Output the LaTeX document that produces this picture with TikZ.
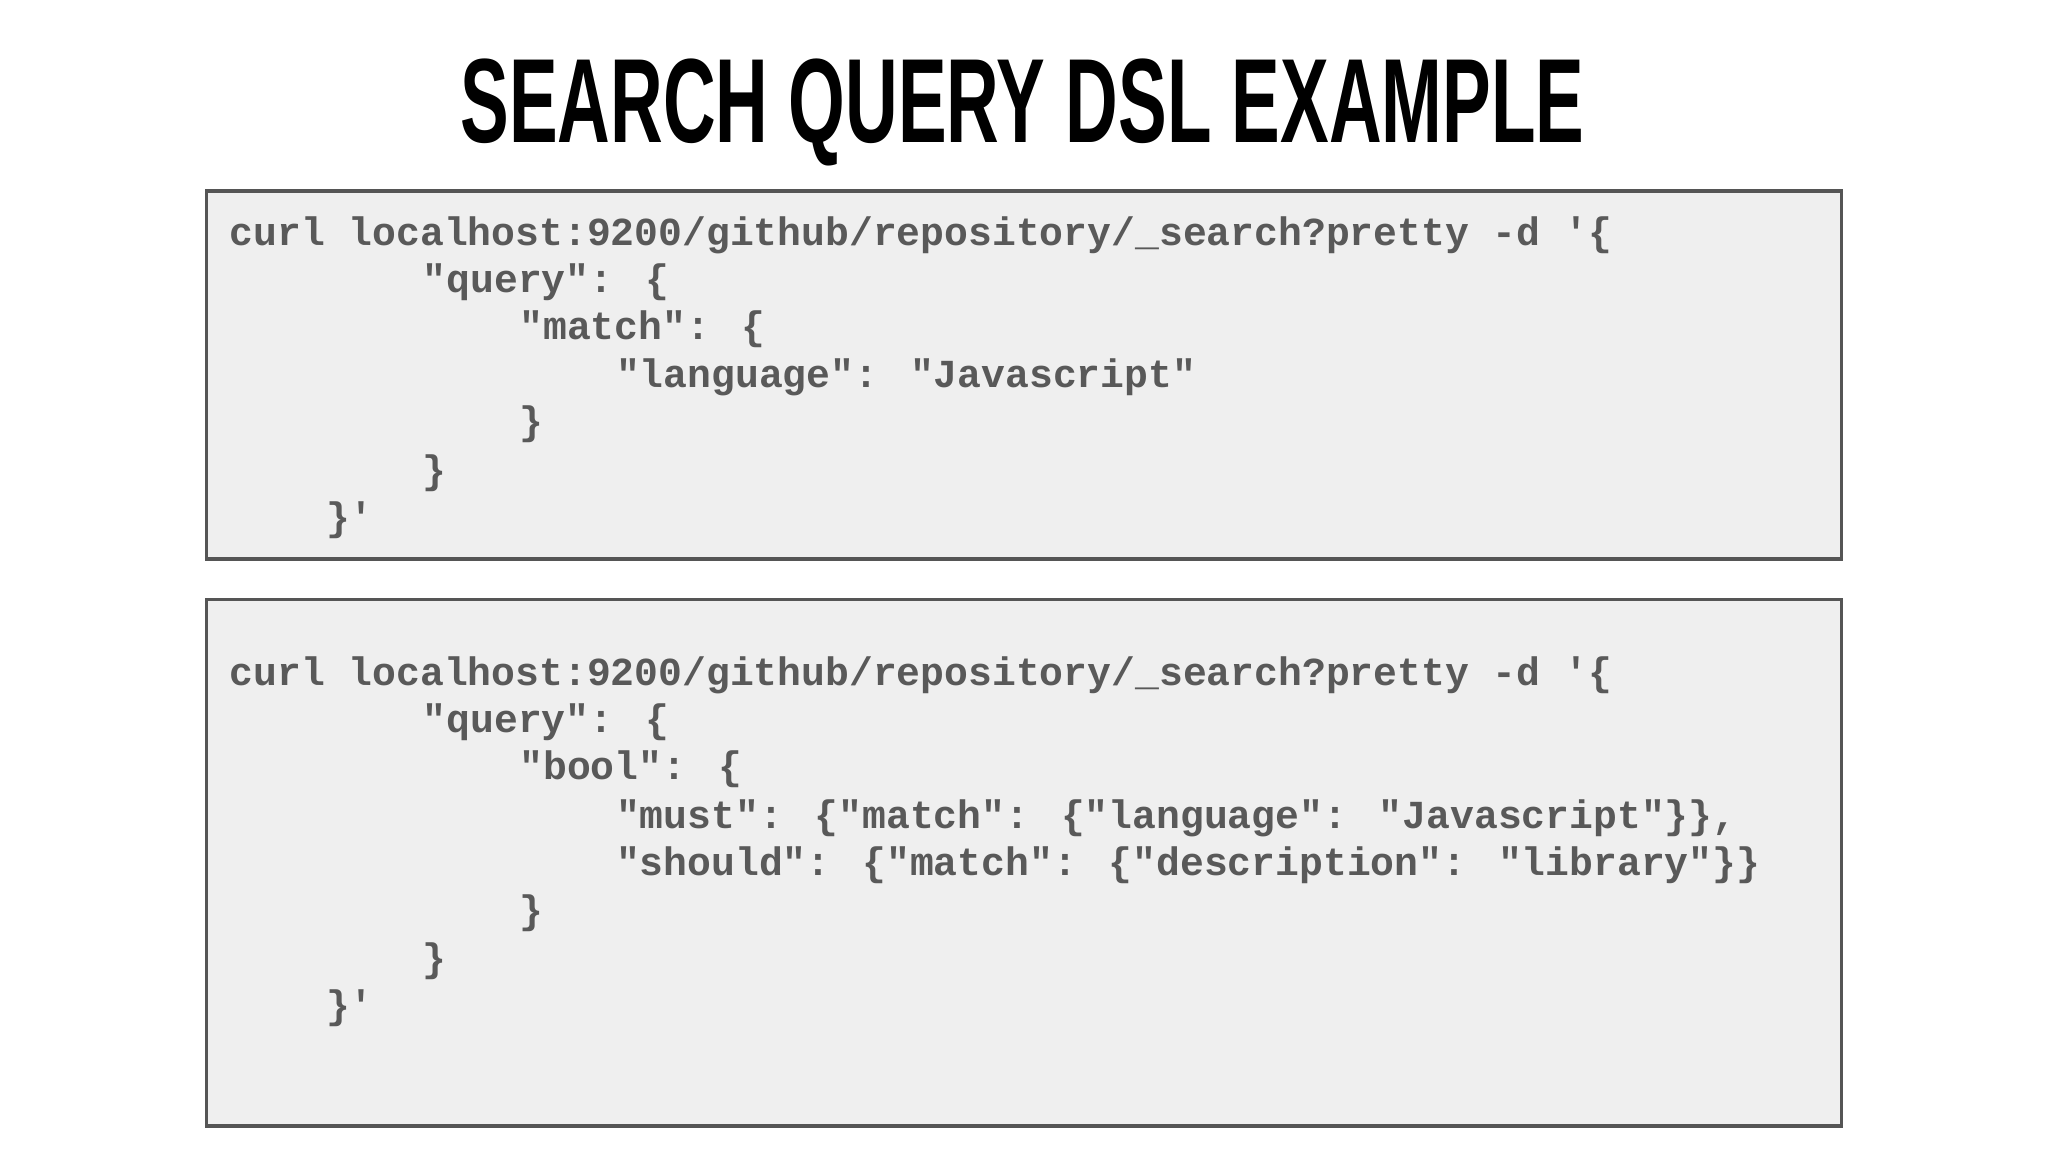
\documentclass[tikz,border=0pt]{standalone}
\usepackage{fontspec}
\setmainfont{Liberation Sans}
\newfontfamily\codefont{Liberation Mono}
\definecolor{boxfill}{HTML}{EFEFEF}
\definecolor{boxline}{HTML}{555555}
\definecolor{codecol}{HTML}{595959}
\tikzset{
  codebox/.style={draw=boxline,line width=0.8pt,fill=boxfill},
  codeline/.style={anchor=base west,inner sep=0pt,text=codecol,font=\codefont\bfseries\fontsize{8.65pt}{10pt}\selectfont}
}
\begin{document}
\begin{tikzpicture}[x=0.01cm,y=-0.01cm]
\useasboundingbox[fill=white] (0,0) rectangle (1568,882);
\node (title) at (783,86) {\resizebox{8.6cm}{0.64cm}{\bfseries SEARCH QUERY DSL EXAMPLE}};
\draw[codebox] (158,146) rectangle (1410,428);
\draw[codebox] (158,459) rectangle (1410,862);
\def\cw{18.5}
% box 1
\node[codeline] (a1) at (175,188) {curl localhost:9200/github/repository/\_search?pretty -d '\{};
\node[codeline] (a2) at (175+8*\cw,224) {"query": \{};
\node[codeline] (a3) at (175+12*\cw,260) {"match": \{};
\node[codeline] (a4) at (175+16*\cw,297) {"language": "Javascript"};
\node[codeline] (a5) at (175+12*\cw,333) {\}};
\node[codeline] (a6) at (175+8*\cw,370) {\}};
\node[codeline] (a7) at (175+4*\cw,406) {\}'};
% box 2
\node[codeline] (b1) at (175,525) {curl localhost:9200/github/repository/\_search?pretty -d '\{};
\node[codeline] (b2) at (175+8*\cw,561) {"query": \{};
\node[codeline] (b3) at (175+12*\cw,597) {"bool": \{};
\node[codeline] (b4) at (175+16*\cw,634) {"must": \{"match": \{"language": "Javascript"\}\},};
\node[codeline] (b5) at (175+16*\cw,670) {"should": \{"match": \{"description": "library"\}\}};
\node[codeline] (b6) at (175+12*\cw,707) {\}};
\node[codeline] (b7) at (175+8*\cw,744) {\}};
\node[codeline] (b8) at (175+4*\cw,780) {\}'};
\end{tikzpicture}
\end{document}
